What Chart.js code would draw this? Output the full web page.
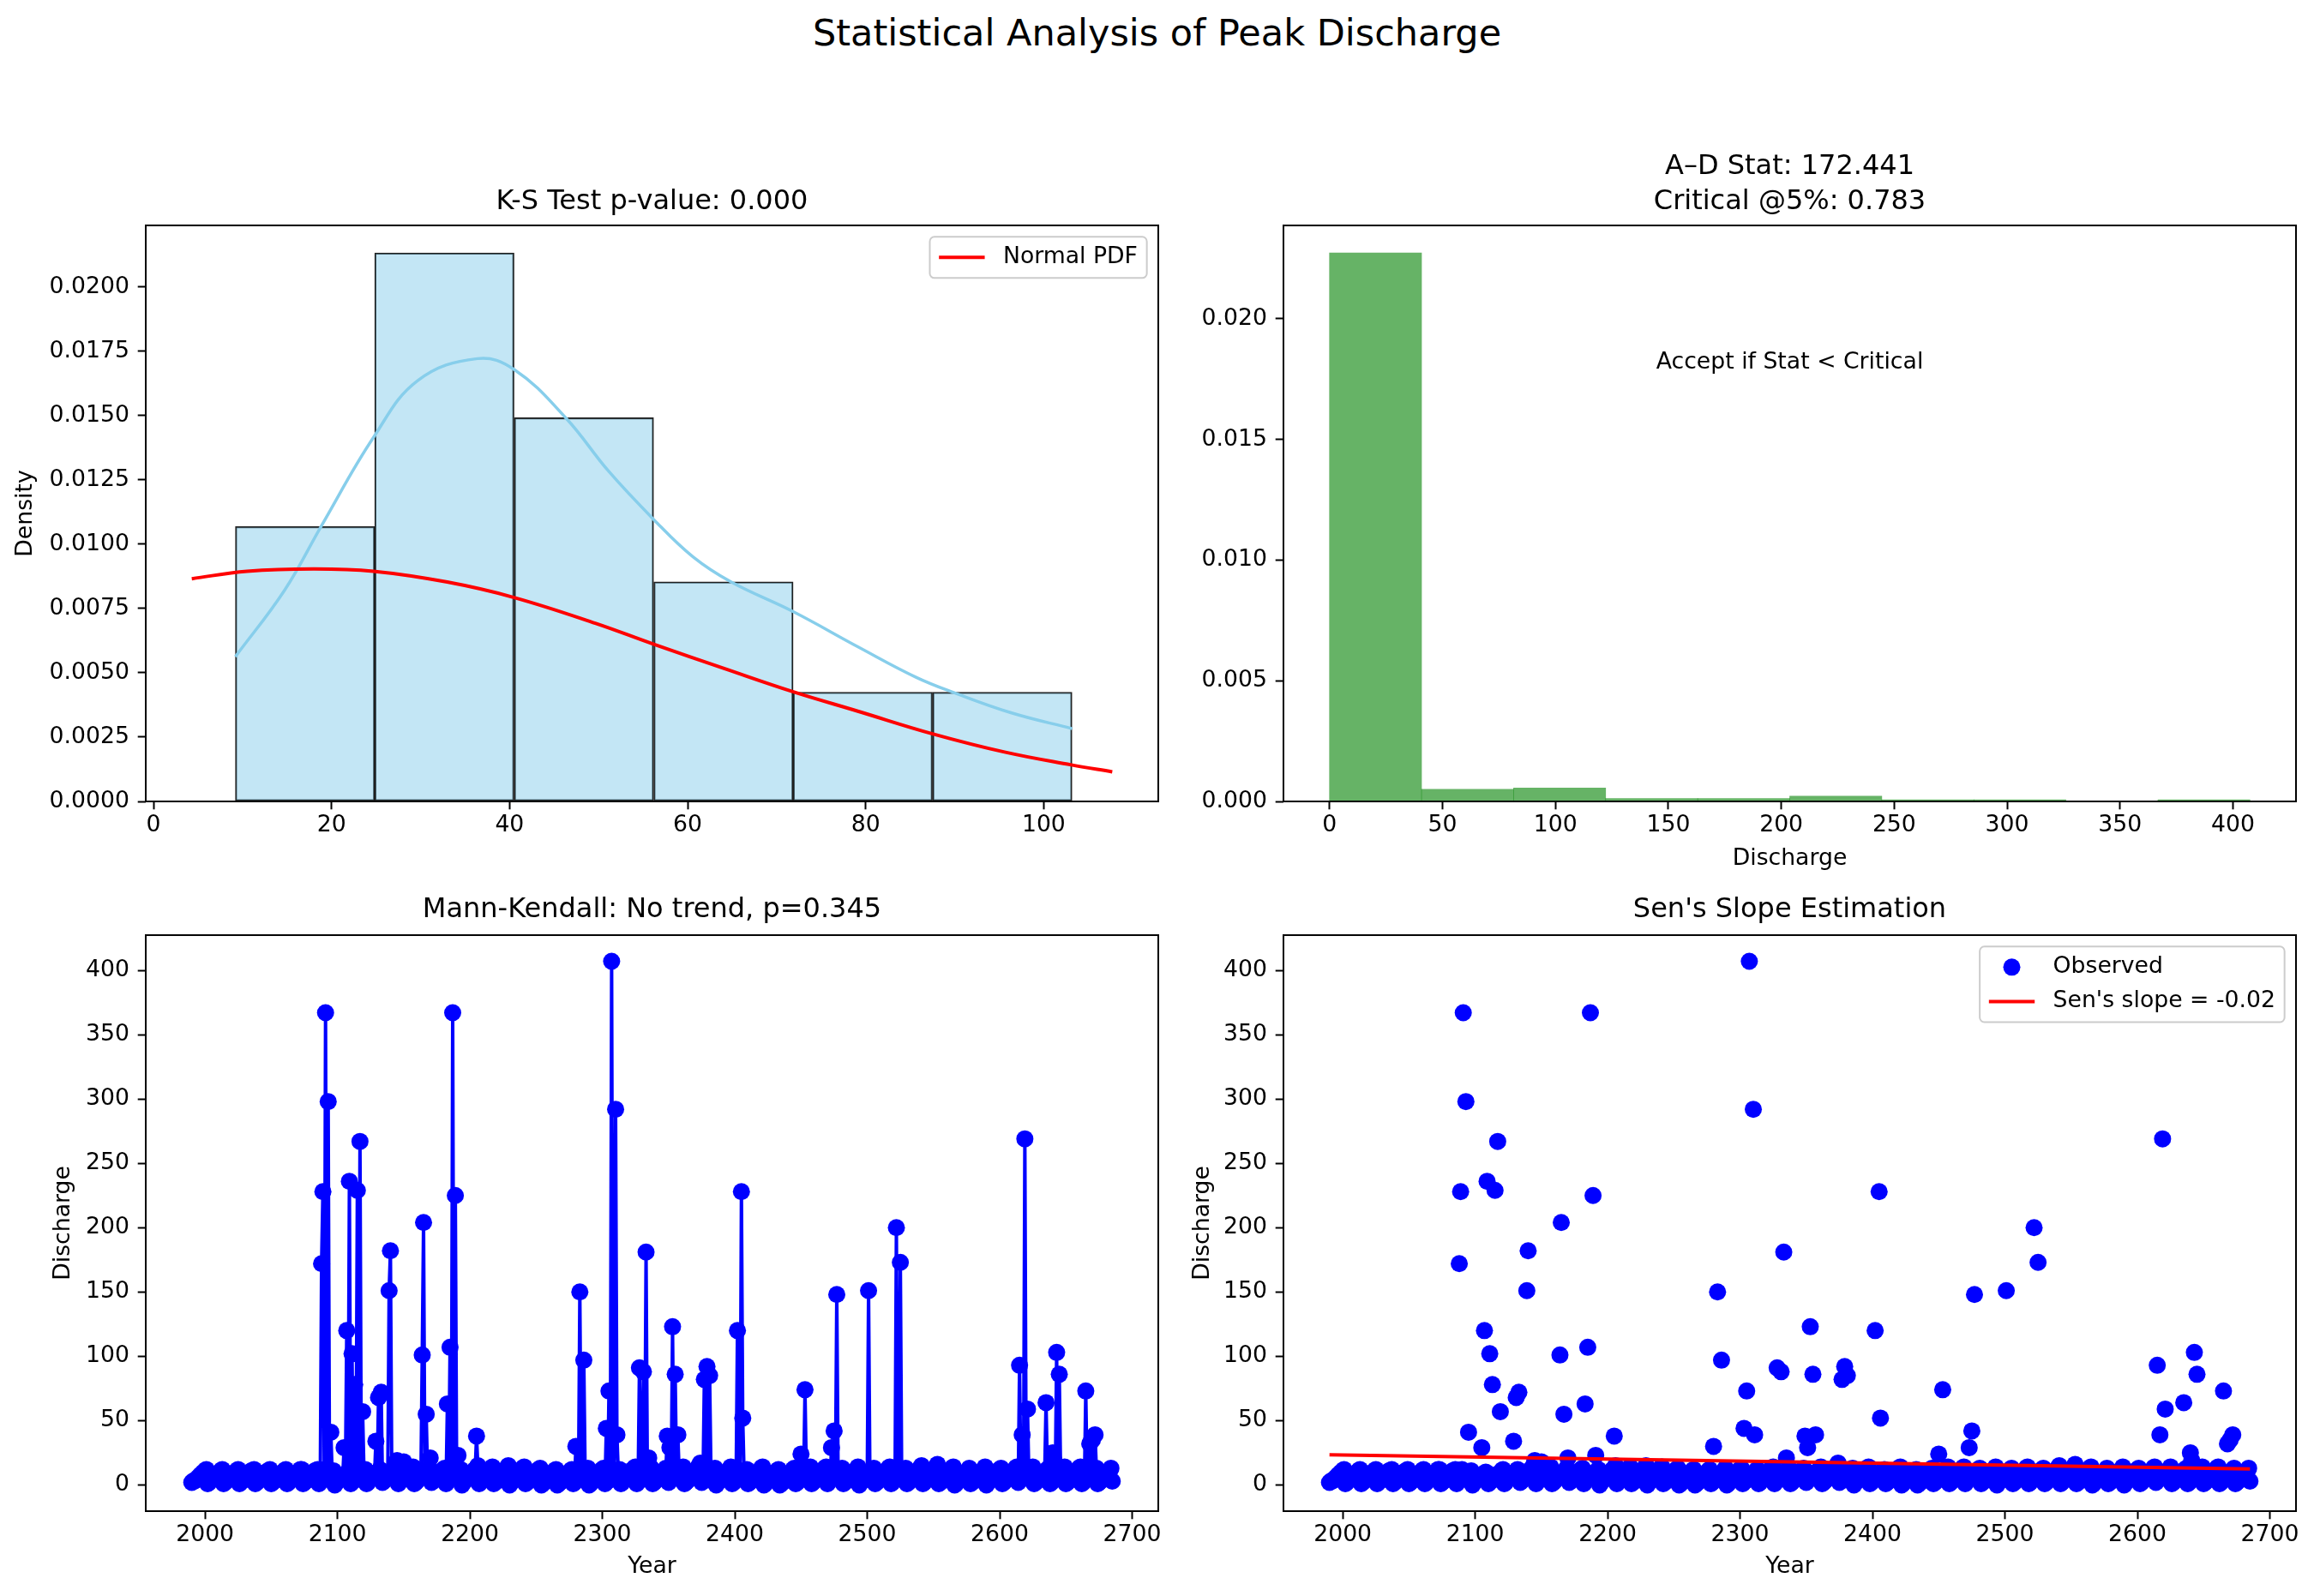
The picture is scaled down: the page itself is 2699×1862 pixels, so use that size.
<!DOCTYPE html>
<html>
<head>
<meta charset="utf-8">
<title>Statistical Analysis of Peak Discharge</title>
<script src="https://cdn.jsdelivr.net/npm/chart.js"></script>
<style>
  html, body { margin: 0; padding: 0; background: #fff; }
  body { width: 2699px; height: 1862px; position: relative; overflow: hidden; font-family: "DejaVu Sans", sans-serif; }
  #suptitle { position: absolute; left: 0; top: 17px; width: 2699px; text-align: center; font-size: 43px; line-height: 43px; color: #000; }
  canvas { position: absolute; }
  #ksChart { left: 0; top: 170px; }
  #adChart { left: 1370px; top: 170px; }
  #mkChart { left: 0; top: 1040px; }
  #senChart { left: 1370px; top: 1040px; }
</style>
</head>
<body>
<div id="suptitle">Statistical Analysis of Peak Discharge</div>
<canvas id="ksChart" width="1370" height="870"></canvas>
<canvas id="adChart" width="1329" height="870"></canvas>
<canvas id="mkChart" width="1370" height="822"></canvas>
<canvas id="senChart" width="1329" height="822"></canvas>
<script>
// K-S panel: density histogram of the peaks, its KDE and the fitted normal
const ksBinEdges = [9.2, 24.85, 40.5, 56.2, 71.85, 87.5, 103.2];
const ksDensity = [0.01069, 0.02133, 0.01492, 0.00854, 0.00425, 0.00425];
const kdeX = [9.2, 14.7, 18.9, 24.7, 29.7, 36.4, 40.5, 46.35, 51.1, 56.2, 60.6, 64.9, 71.8, 79.2, 85.65, 90, 96.4, 103.2];
const kdeY = [0.00563, 0.0082, 0.01074, 0.01415, 0.01637, 0.01722, 0.0168, 0.0149, 0.01285, 0.01096, 0.00951, 0.00853, 0.00739, 0.006, 0.00483, 0.00422, 0.00344, 0.00283];
const normX = [4.3, 10.5, 18, 24.7, 33, 40.5, 49.7, 56.2, 64.1, 71.8, 79.2, 87.5, 95.6, 103.1, 107.7];
const normY = [0.00866, 0.00895, 0.00904, 0.00895, 0.00853, 0.00793, 0.00692, 0.00611, 0.00517, 0.00427, 0.0035, 0.00263, 0.00192, 0.00142, 0.00115];

// A-D panel: density histogram of all discharge values
const adBinEdges = [0, 40.75, 81.5, 122.25, 163, 203.75, 244.5, 285.25, 326, 366.75, 407.5];
const adDensity = [0.02273, 0.0005, 0.00056, 0.00012, 0.00012, 0.00022, 0.00007, 0.00007, 0, 0.00007];

// discharge series, one row per 12 steps, starting at 1990
const firstYear = 1990;
const discharge = [
  2, 3, 3, 4, 5, 6, 7, 8, 9, 10, 11, 12,
  1, 2, 4, 4, 5, 7, 7, 8, 9, 10, 11, 12,
  1, 2, 3, 5, 5, 6, 7, 9, 9, 10, 11, 12,
  1, 3, 3, 4, 6, 6, 8, 8, 9, 11, 11, 12,
  1, 2, 3, 4, 5, 7, 7, 8, 10, 10, 11, 12,
  1, 2, 3, 5, 5, 6, 8, 8, 9, 10, 11, 12,
  1, 2, 4, 4, 5, 6, 7, 9, 9, 10, 12, 12,
  1, 2, 3, 4, 6, 6, 7, 8, 9, 11, 11, 12,
  1, 3, 172, 228, 12, 367, 9, 298, 8, 41, 10, 11,
  0, 2, 3, 4, 5, 6, 7, 29, 8, 120, 10, 236,
  1, 102, 3, 78, 6, 229, 8, 267, 9, 57, 11, 12,
  1, 2, 4, 5, 6, 7, 8, 34, 10, 68, 12, 72,
  2, 3, 5, 6, 8, 151, 182, 10, 12, 13, 15, 19,
  1, 3, 4, 6, 18, 8, 9, 10, 11, 12, 13, 14,
  1, 2, 3, 5, 6, 7, 101, 204, 9, 55, 11, 13,
  21, 2, 3, 4, 6, 7, 8, 9, 10, 11, 12, 13,
  1, 63, 4, 107, 6, 367, 8, 225, 9, 23, 11, 12,
  0, 2, 3, 4, 5, 6, 7, 8, 10, 11, 12, 38,
  15, 1, 3, 4, 5, 7, 8, 9, 10, 11, 12, 14,
  1, 2, 3, 4, 6, 7, 8, 9, 10, 12, 13, 15,
  0, 2, 3, 5, 6, 7, 8, 9, 11, 12, 13, 14,
  1, 2, 3, 4, 5, 6, 7, 8, 9, 11, 12, 13,
  0, 1, 2, 4, 5, 6, 7, 8, 9, 10, 11, 12,
  0, 1, 2, 3, 4, 5, 6, 8, 9, 10, 11, 12,
  1, 2, 30, 4, 5, 150, 7, 8, 97, 10, 11, 13,
  0, 1, 3, 4, 5, 6, 8, 9, 10, 11, 12, 13,
  1, 44, 3, 73, 5, 407, 7, 8, 292, 39, 11, 12,
  1, 2, 4, 5, 6, 7, 8, 9, 10, 12, 13, 14,
  1, 3, 91, 5, 6, 88, 8, 181, 9, 21, 12, 13,
  1, 2, 3, 5, 6, 7, 8, 9, 10, 11, 13, 38,
  2, 29, 4, 123, 6, 86, 8, 39, 10, 11, 12, 14,
  1, 2, 3, 4, 6, 7, 8, 9, 10, 12, 13, 15,
  17, 2, 4, 82, 6, 92, 8, 85, 10, 11, 12, 13,
  0, 2, 3, 4, 5, 6, 7, 9, 10, 11, 12, 14,
  1, 2, 3, 5, 120, 6, 8, 228, 52, 10, 11, 12,
  1, 2, 3, 4, 5, 7, 8, 9, 10, 11, 13, 14,
  0, 1, 3, 4, 5, 6, 7, 8, 9, 10, 11, 12,
  0, 1, 2, 3, 5, 6, 7, 8, 9, 10, 12, 13,
  1, 2, 3, 5, 24, 7, 8, 74, 10, 11, 12, 14,
  1, 2, 4, 5, 6, 7, 8, 9, 11, 12, 13, 14,
  1, 3, 4, 29, 6, 42, 8, 148, 10, 11, 12, 13,
  1, 2, 3, 4, 6, 7, 8, 9, 10, 11, 12, 14,
  0, 2, 3, 4, 5, 6, 7, 151, 9, 10, 12, 13,
  1, 2, 3, 5, 6, 7, 8, 9, 10, 11, 13, 14,
  1, 2, 4, 5, 200, 7, 8, 173, 10, 11, 12, 13,
  1, 2, 3, 4, 5, 7, 8, 9, 10, 12, 13, 15,
  1, 2, 4, 5, 6, 7, 8, 10, 11, 12, 14, 16,
  1, 2, 3, 4, 6, 7, 8, 9, 10, 12, 13, 14,
  0, 1, 3, 4, 5, 6, 7, 8, 9, 10, 11, 13,
  1, 2, 3, 4, 5, 7, 8, 9, 10, 11, 12, 14,
  0, 2, 3, 4, 5, 6, 7, 8, 10, 11, 12, 13,
  1, 2, 3, 5, 6, 7, 8, 9, 10, 11, 13, 14,
  2, 93, 4, 39, 6, 269, 8, 59, 10, 11, 12, 14,
  1, 2, 3, 5, 6, 7, 8, 9, 10, 64, 12, 13,
  1, 2, 25, 19, 6, 103, 8, 86, 10, 11, 12, 14,
  1, 2, 3, 4, 6, 7, 8, 9, 10, 12, 13, 14,
  1, 2, 4, 73, 6, 7, 32, 9, 35, 11, 39, 13,
  1, 2, 3, 5, 6, 7, 8, 9, 10, 11, 13, 3,
];
const years = discharge.map((_, i) => firstYear + i);

// Sen's slope line end points
const senYears = [1990, 2685];
const senLine = [23.4, 12.4];

// tick labels
const ksXTicks = [0, 20, 40, 60, 80, 100];
const ksYTicks = [0, 0.0025, 0.005, 0.0075, 0.01, 0.0125, 0.015, 0.0175, 0.02];
const adXTicks = [0, 50, 100, 150, 200, 250, 300, 350, 400];
const adYTicks = [0, 0.005, 0.01, 0.015, 0.02];
const yearTicks = [2000, 2100, 2200, 2300, 2400, 2500, 2600, 2700];
const dischargeTicks = [0, 50, 100, 150, 200, 250, 300, 350, 400];

const fs = 26.7; // 10pt text
const markerR = 10;

Chart.defaults.font.family = "'DejaVu Sans', sans-serif";
Chart.defaults.font.size = fs;
Chart.defaults.color = '#000';

function axis(o) {
  return {
    type: 'linear',
    min: o.min,
    max: o.max,
    offset: false,
    afterBuildTicks: (s) => { s.ticks = o.ticks.map((v) => ({ value: v })); },
    afterFit: (s) => { if (s.isHorizontal()) s.height = o.size; else s.width = o.size; },
    grid: { offset: false, drawOnChartArea: false, drawTicks: true, tickLength: 9.3, tickWidth: 2, tickColor: '#000' },
    border: { display: false },
    ticks: {
      autoSkip: false, maxRotation: 0, minRotation: 0, padding: o.pad, color: '#000', font: { size: fs },
      callback: (v) => (o.dec ? v.toFixed(o.dec) : String(v)),
    },
    title: { display: !!o.title, text: o.title || '', color: '#000', font: { size: fs }, padding: o.titlePad || 0 },
  };
}

function subTitle(text, top, bottom) {
  return {
    display: true, fullSize: false, text: text, color: '#000',
    font: { size: 32, weight: 'normal', lineHeight: 1.28 },
    padding: { top: top, bottom: bottom },
  };
}

// box around the axes, plus legend / note drawn like matplotlib
function axesDecor(extra) {
  return {
    id: 'axesDecor',
    afterDatasetsDraw(chart) {
      const { ctx, chartArea: a } = chart;
      ctx.save();
      ctx.lineWidth = 2;
      ctx.strokeStyle = '#000';
      ctx.strokeRect(a.left, a.top, a.right - a.left, a.bottom - a.top);
      ctx.font = fs + "px 'DejaVu Sans'";
      if (extra.note) {
        ctx.fillStyle = '#000';
        ctx.textAlign = 'center';
        ctx.textBaseline = 'middle';
        ctx.fillText(extra.note.text, a.left + (a.right - a.left) * extra.note.x, a.bottom - (a.bottom - a.top) * extra.note.y);
      }
      if (extra.legend) {
        const items = extra.legend;
        const textW = Math.max(...items.map((it) => ctx.measureText(it.label).width));
        const w = 0.8 * fs + 2 * fs + 0.8 * fs + textW;
        const h = 0.8 * fs + items.length * fs + (items.length - 1) * 0.5 * fs;
        const x0 = a.right - 0.5 * fs - w;
        const y0 = a.top + 0.5 * fs;
        ctx.beginPath();
        ctx.roundRect(x0, y0, w, h, 0.2 * fs);
        ctx.fillStyle = 'rgba(255,255,255,0.8)';
        ctx.fill();
        ctx.strokeStyle = '#cccccc';
        ctx.lineWidth = 2;
        ctx.stroke();
        items.forEach((it, i) => {
          const cy = y0 + 0.4 * fs + fs / 2 + i * 1.5 * fs;
          const hx = x0 + 0.4 * fs;
          if (it.marker) {
            ctx.beginPath();
            ctx.arc(hx + fs, cy, it.marker, 0, Math.PI * 2);
            ctx.fillStyle = it.color;
            ctx.fill();
          } else {
            ctx.beginPath();
            ctx.moveTo(hx, cy);
            ctx.lineTo(hx + 2 * fs, cy);
            ctx.strokeStyle = it.color;
            ctx.lineWidth = it.line;
            ctx.stroke();
          }
          ctx.fillStyle = '#000';
          ctx.textAlign = 'left';
          ctx.textBaseline = 'middle';
          ctx.fillText(it.label, hx + 2.8 * fs, cy);
        });
      }
      ctx.restore();
    },
  };
}

const common = { responsive: false, devicePixelRatio: 1, animation: false, events: [] };

// top left: K-S
new Chart(document.getElementById('ksChart'), {
  type: 'line',
  data: {
    datasets: [
      {
        label: 'Normal PDF',
        data: normX.map((x, i) => ({ x: x, y: normY[i] })),
        borderColor: 'red', borderWidth: 4, pointRadius: 0, tension: 0.4,
      },
      {
        label: 'KDE',
        data: kdeX.map((x, i) => ({ x: x, y: kdeY[i] })),
        borderColor: '#87ceeb', borderWidth: 3.5, pointRadius: 0, tension: 0.4,
      },
      {
        type: 'bar',
        label: 'Peaks',
        data: ksDensity.map((d, i) => ({ x: (ksBinEdges[i] + ksBinEdges[i + 1]) / 2, y: d })),
        backgroundColor: 'rgba(135, 206, 235, 0.5)', borderColor: '#1f1f1f', borderWidth: 1.6,
        borderSkipped: false, barPercentage: 1, categoryPercentage: 1,
      },
    ],
  },
  options: {
    ...common,
    layout: { autoPadding: false, padding: { left: 0, right: 19, top: 0, bottom: 15 } },
    plugins: {
      legend: { display: false }, tooltip: { enabled: false },
      title: subTitle('K-S Test p-value: 0.000', 45.5, 6.5),
    },
    scales: {
      x: axis({ min: -0.87, max: 112.87, ticks: ksXTicks, size: 90, pad: 2.7 }),
      y: axis({ min: 0, max: 0.0224, ticks: ksYTicks, size: 170, pad: 9.7, dec: 4, title: 'Density', titlePad: 14 }),
    },
  },
  plugins: [axesDecor({ legend: [{ label: 'Normal PDF', color: 'red', line: 4 }] })],
});

// top right: A-D
new Chart(document.getElementById('adChart'), {
  type: 'line',
  data: {
    datasets: [
      {
        type: 'bar',
        label: 'Discharge',
        data: adDensity.map((d, i) => ({ x: (adBinEdges[i] + adBinEdges[i + 1]) / 2, y: d })),
        backgroundColor: 'rgba(0, 128, 0, 0.6)', borderWidth: 0,
        barPercentage: 1, categoryPercentage: 1,
      },
    ],
  },
  options: {
    ...common,
    layout: { autoPadding: false, padding: { left: 0, right: 21, top: 0, bottom: 15 } },
    plugins: {
      legend: { display: false }, tooltip: { enabled: false },
      title: subTitle(['A–D Stat: 172.441', 'Critical @5%: 0.783'], 4.5, 6.6),
    },
    scales: {
      x: axis({ min: -20.375, max: 427.875, ticks: adXTicks, size: 90, pad: 2.7, title: 'Discharge', titlePad: 7 }),
      y: axis({ min: 0, max: 0.02387, ticks: adYTicks, size: 127, pad: 9.7, dec: 3 }),
    },
  },
  plugins: [axesDecor({ note: { text: 'Accept if Stat < Critical', x: 0.5, y: 0.762 } })],
});

// bottom left: Mann-Kendall
new Chart(document.getElementById('mkChart'), {
  type: 'line',
  data: {
    datasets: [
      {
        label: 'Discharge',
        data: years.map((x, i) => ({ x: x, y: discharge[i] })),
        borderColor: 'blue', borderWidth: 4, borderJoinStyle: 'round',
        pointRadius: markerR, pointBackgroundColor: 'blue', pointBorderWidth: 0,
      },
    ],
  },
  options: {
    ...common,
    layout: { autoPadding: false, padding: { left: 0, right: 19, top: 0, bottom: 9 } },
    plugins: {
      legend: { display: false }, tooltip: { enabled: false },
      title: subTitle('Mann-Kendall: No trend, p=0.345', 1.5, 8.5),
    },
    scales: {
      x: axis({ min: 1955.25, max: 2719.75, ticks: yearTicks, size: 90, pad: 2.7, title: 'Year', titlePad: 9 }),
      y: axis({ min: -20.35, max: 427.35, ticks: dischargeTicks, size: 170, pad: 9.7, title: 'Discharge', titlePad: 58 }),
    },
  },
  plugins: [axesDecor({})],
});

// bottom right: Sen's slope
new Chart(document.getElementById('senChart'), {
  type: 'line',
  data: {
    datasets: [
      {
        label: "Sen's slope = -0.02",
        data: senYears.map((x, i) => ({ x: x, y: senLine[i] })),
        borderColor: 'red', borderWidth: 4, pointRadius: 0,
      },
      {
        label: 'Observed',
        data: years.map((x, i) => ({ x: x, y: discharge[i] })),
        showLine: false, pointRadius: markerR, pointBackgroundColor: 'blue', pointBorderWidth: 0,
      },
    ],
  },
  options: {
    ...common,
    layout: { autoPadding: false, padding: { left: 0, right: 21, top: 0, bottom: 9 } },
    plugins: {
      legend: { display: false }, tooltip: { enabled: false },
      title: subTitle("Sen's Slope Estimation", 1.5, 8.5),
    },
    scales: {
      x: axis({ min: 1955.25, max: 2719.75, ticks: yearTicks, size: 90, pad: 2.7, title: 'Year', titlePad: 9 }),
      y: axis({ min: -20.35, max: 427.35, ticks: dischargeTicks, size: 127, pad: 9.7, title: 'Discharge', titlePad: 16.7 }),
    },
  },
  plugins: [axesDecor({
    legend: [
      { label: 'Observed', color: 'blue', marker: markerR },
      { label: "Sen's slope = -0.02", color: 'red', line: 4 },
    ],
  })],
});
</script>
</body>
</html>
